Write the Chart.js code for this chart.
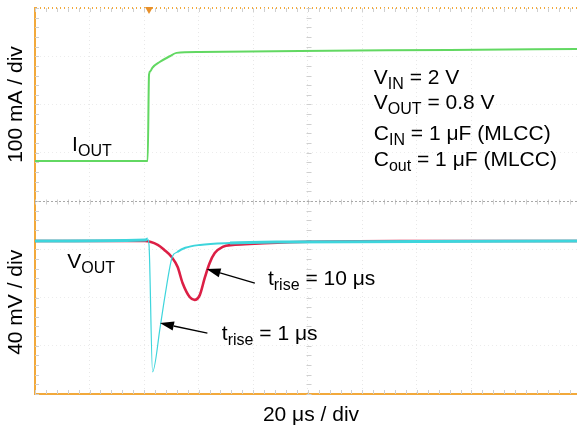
<!DOCTYPE html>
<html>
<head>
<meta charset="utf-8">
<script src="https://cdn.jsdelivr.net/npm/chart.js@4.4.1/dist/chart.umd.min.js"></script>
<style>
    html, body { margin: 0; padding: 0; background: #fff; overflow: hidden; }
    #scope { display: block; }
</style>
</head>
<body>
<canvas id="scope" width="577" height="428"></canvas>
<script>
// time in µs (20 µs / div), amplitude in screen divisions (0..8)
const xMax = 198.7;

const ioutTime = [0, 41.3, 41.8, 42.3, 43.0, 45.7, 49.4, 51.9, 60.4, 97.1, 152.0, 198.7];
const ioutDiv  = [4.83, 4.83, 6.62, 6.69, 6.76, 6.88, 7.00, 7.07, 7.09, 7.11, 7.13, 7.15];

const slowTime = [0, 40.2, 45.0, 47.5, 50.1, 52.3, 54.1, 56.7, 58.5, 60.4, 62.2, 64.0, 65.9, 68.8, 72.5, 78.7, 97.1, 133.8, 198.7];
const slowDiv  = [3.17, 3.17, 3.09, 2.98, 2.84, 2.63, 2.30, 2.01, 1.95, 2.05, 2.40, 2.71, 2.92, 3.05, 3.09, 3.11, 3.15, 3.17, 3.17];

const fastTime = [0, 40.5, 41.3, 41.8, 43.1, 45.9, 47.7, 50.3, 52.1, 55.1, 60.5, 71.5, 89.8, 198.7];
const fastDiv  = [3.17, 3.19, 3.21, 3.09, 0.46, 1.39, 2.05, 2.84, 2.94, 3.03, 3.09, 3.13, 3.15, 3.17];

const toPoints = (xs, ys) => xs.map((t, i) => ({ x: t, y: ys[i] }));

const FONT = '"Liberation Sans", Arial, sans-serif';
const ORANGE = "#f2a93b";

function drawSub(ctx, parts, x, y, size) {
    let cx = x;
    parts.forEach(([text, sub]) => {
        ctx.font = (sub ? Math.round(size * 0.76) : size) + "px " + FONT;
        ctx.fillText(text, cx, sub ? y + 5 : y);
        cx += ctx.measureText(text).width;
    });
}

function arrow(ctx, x0, y0, x1, y1) {
    const ang = Math.atan2(y1 - y0, x1 - x0);
    const len = 14, half = 4.5;
    const bx = x1 - Math.cos(ang) * len, by = y1 - Math.sin(ang) * len;
    ctx.beginPath();
    ctx.moveTo(x0, y0);
    ctx.lineTo(bx, by);
    ctx.stroke();
    ctx.beginPath();
    ctx.moveTo(x1, y1);
    ctx.lineTo(bx + Math.sin(ang) * half, by - Math.cos(ang) * half);
    ctx.lineTo(bx - Math.sin(ang) * half, by + Math.cos(ang) * half);
    ctx.closePath();
    ctx.fill();
}

const scopePlugin = {
    id: "scope",
    beforeDatasetsDraw(chart) {
        const { ctx, chartArea: a, scales: { x, y } } = chart;
        const midY = Math.round(y.getPixelForValue(4)) + 0.5;
        const midX = Math.round(x.getPixelForValue(100)) + 0.5;
        ctx.save();
        ctx.strokeStyle = "#cfcfcf";
        ctx.lineWidth = 1;
        ctx.beginPath();
        for (let t = 0; t <= xMax; t += 4) {
            const px = Math.round(x.getPixelForValue(t)) + 0.5;
            ctx.moveTo(px, a.top); ctx.lineTo(px, a.top + 4);
            ctx.moveTo(px, a.bottom); ctx.lineTo(px, a.bottom - 4);
            ctx.moveTo(px, midY - 2); ctx.lineTo(px, midY + 3);
        }
        for (let v = 0; v <= 8.001; v += 0.2) {
            const py = Math.round(y.getPixelForValue(v)) + 0.5;
            ctx.moveTo(a.left, py); ctx.lineTo(a.left + 4, py);
            ctx.moveTo(midX - 2, py); ctx.lineTo(midX + 3, py);
        }
        ctx.stroke();
        ctx.strokeStyle = "#a8a8a8";
        ctx.setLineDash([2, 2]);
        ctx.beginPath();
        ctx.moveTo(a.left, midY); ctx.lineTo(a.right, midY);
        ctx.stroke();
        ctx.restore();
    },
    afterDatasetsDraw(chart) {
        const { ctx, chartArea: a, scales: { x, y } } = chart;
        const px = t => x.getPixelForValue(t);
        const py = v => y.getPixelForValue(v);
        ctx.save();

        // trigger marker
        const tx = px(41.8);
        ctx.fillStyle = "#e8902a";
        ctx.beginPath();
        ctx.moveTo(tx - 4, a.top - 1);
        ctx.lineTo(tx + 4, a.top - 1);
        ctx.lineTo(tx, a.top + 6);
        ctx.closePath();
        ctx.fill();

        ctx.fillStyle = "#000";
        ctx.strokeStyle = "#000";
        ctx.lineWidth = 1.3;
        ctx.textBaseline = "alphabetic";
        ctx.textAlign = "left";

        const size = 21;
        drawSub(ctx, [["V", false], ["IN", true], [" = 2 V", false]], px(124.2), py(6.42), size);
        drawSub(ctx, [["V", false], ["OUT", true], [" = 0.8 V", false]], px(124.2), py(5.90), size);
        drawSub(ctx, [["C", false], ["IN", true], [" = 1 \u03bcF (MLCC)", false]], px(124.2), py(5.27), size);
        drawSub(ctx, [["C", false], ["out", true], [" = 1 \u03bcF (MLCC)", false]], px(124.2), py(4.73), size);

        drawSub(ctx, [["I", false], ["OUT", true]], px(13.6), py(5.04), size);
        drawSub(ctx, [["V", false], ["OUT", true]], px(11.8), py(2.61), size);

        drawSub(ctx, [["t", false], ["rise", true], [" = 10 \u03bcs", false]], px(85.4), py(2.26), size);
        drawSub(ctx, [["t", false], ["rise", true], [" = 1 \u03bcs", false]], px(68.5), py(1.12), size);

        arrow(ctx, px(80.6), py(2.30), px(62.9), py(2.59));
        arrow(ctx, px(63.2), py(1.26), px(45.8), py(1.47));

        // axis captions
        ctx.font = size + "px " + FONT;
        ctx.textAlign = "center";
        ctx.fillText("20 \u03bcs / div", 311, 421);
        ctx.save();
        ctx.translate(22, py(6.0));
        ctx.rotate(-Math.PI / 2);
        ctx.fillText("100 mA / div", 0, 0);
        ctx.restore();
        ctx.save();
        ctx.translate(22, py(1.9));
        ctx.rotate(-Math.PI / 2);
        ctx.fillText("40 mV / div", 0, 0);
        ctx.restore();

        ctx.restore();
    }
};

function fastWidth(c) {
    const t = c.p0.parsed.x;
    if (t < 41) return 3;
    if (t < 52) return 1.2;
    if (t < 70) return 2;
    return 3;
}

const chart = new Chart(document.getElementById("scope"), {
    type: "line",
    data: {
        datasets: [
            {
                label: "IOUT",
                data: toPoints(ioutTime, ioutDiv),
                borderColor: "#62d862",
                borderWidth: 2,
                pointRadius: 0,
                cubicInterpolationMode: "monotone"
            },
            {
                label: "VOUT tr=1us",
                data: toPoints(fastTime, fastDiv),
                borderColor: "#3ed5dc",
                borderWidth: 3,
                pointRadius: 0,
                cubicInterpolationMode: "monotone",
                segment: { borderWidth: fastWidth }
            },
            {
                label: "VOUT tr=10us",
                data: toPoints(slowTime, slowDiv),
                borderColor: "#dc1f45",
                borderWidth: 2.6,
                pointRadius: 0,
                cubicInterpolationMode: "monotone"
            }
        ]
    },
    options: {
        responsive: false,
        animation: false,
        devicePixelRatio: 1,
        layout: { padding: { left: 35, top: 8, right: 0, bottom: 34 } },
        plugins: {
            legend: { display: false },
            tooltip: { enabled: false }
        },
        scales: {
            x: {
                type: "linear",
                min: 0,
                max: xMax,
                ticks: { display: false, stepSize: 20 },
                grid: { color: "#e8e8e8", drawTicks: false, tickLength: 0 },
                border: { color: ORANGE, width: 2, dash: [1, 3] }
            },
            y: {
                min: 0,
                max: 8,
                ticks: { display: false, stepSize: 1 },
                grid: {
                    color: c => (c.tick.value === 8 ? ORANGE : "#ececec"),
                    lineWidth: c => (c.tick.value === 8 ? 2 : 1),
                    drawTicks: false,
                    tickLength: 0
                },
                border: { color: ORANGE, width: 2, dash: [1, 3] }
            }
        }
    },
    plugins: [scopePlugin]
});
</script>
</body>
</html>
